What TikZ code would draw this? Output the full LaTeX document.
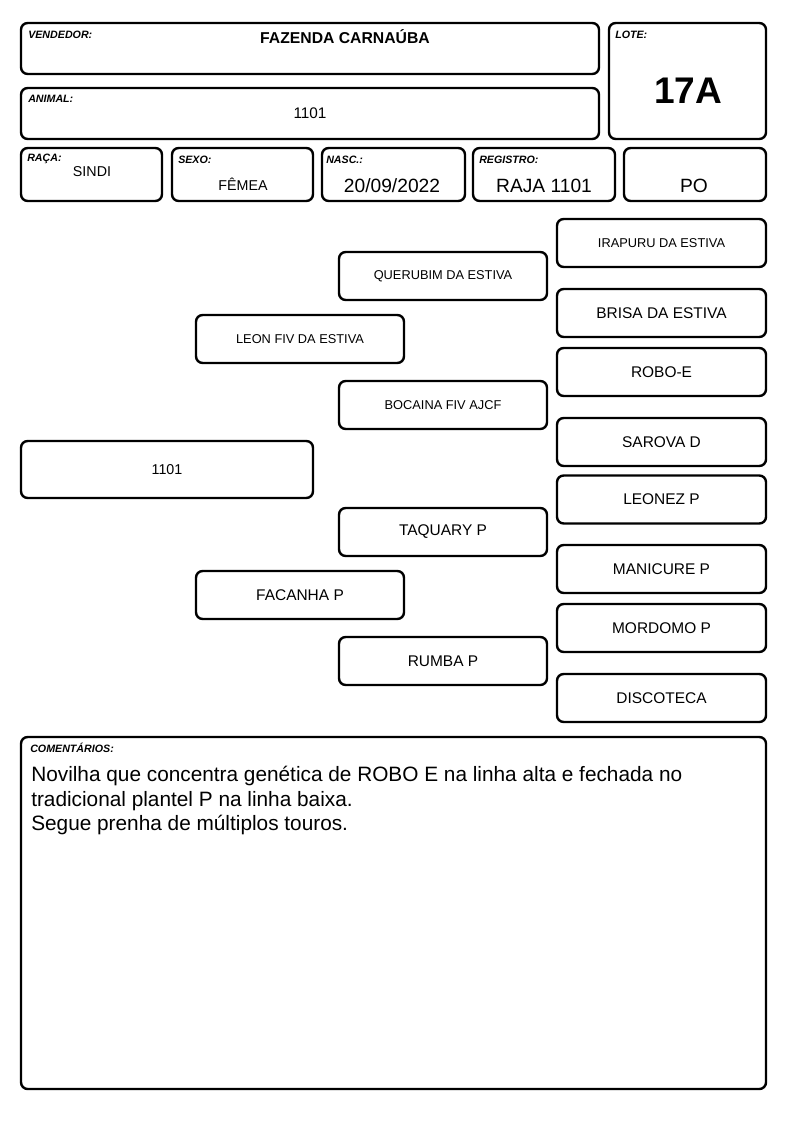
\documentclass[tikz,border=0pt]{standalone}
\usepackage{fontspec}
\setmainfont{Liberation Sans}
\usepackage{tikz}
\usetikzlibrary{positioning, calc}
\newcommand{\frotulo}{\fontsize{8pt}{9pt}\selectfont\bfseries\itshape}
\newcommand{\fpeq}{\fontsize{9.6pt}{11pt}\selectfont}
\newcommand{\fmed}{\fontsize{11.6pt}{13pt}\selectfont}
\newcommand{\fval}{\fontsize{10.7pt}{12pt}\selectfont}
\newcommand{\fgde}{\fontsize{14.4pt}{16pt}\selectfont}
\newcommand{\fobs}{\fontsize{15.6pt}{18.4pt}\selectfont}
\tikzset{
  caixa/.style={rectangle, draw=black, fill=white, rounded corners=5pt,
    line width=1.8pt, inner sep=0pt, align=center},
  rotulo/.style={anchor=west, inner sep=0pt, font=\frotulo},
  valor/.style={inner sep=0pt, font=\fval},
  avo/.style={caixa, minimum width=156pt, minimum height=36pt, font=\fmed},
  bisavo/.style={caixa, minimum width=156.75pt, minimum height=36pt, font=\fmed},
  campo/.style={caixa, minimum width=105.75pt, minimum height=39.75pt}
}

\begin{document}
\begin{tikzpicture}[x=0.75pt, y=-0.75pt]
  \useasboundingbox (0,0) rectangle (794,1123);

  % Header
  \node[caixa, minimum width=433.5pt, minimum height=38.25pt] (vend) at (310,48.5) {};
  \node[caixa, minimum width=433.5pt, minimum height=38.25pt] (anim) at (310,113.5) {};
  \node[caixa, minimum width=117.75pt, minimum height=87pt] (lote) at (687.5,81) {};
  \node[rotulo] (lvend) at (28,35) {VENDEDOR:};
  \node[valor, font=\fontsize{11.8pt}{13pt}\selectfont\bfseries] (tvend) at (345,37) {FAZENDA CARNAÚBA};
  \node[rotulo] (lanim) at (28,99) {ANIMAL:};
  \node[valor, font=\fontsize{11.5pt}{13pt}\selectfont] (tanim) at (310,113) {1101};
  \node[rotulo] (llote) at (615,35) {LOTE:};
  \node[valor, font=\fontsize{27.8pt}{30pt}\selectfont\bfseries] (tlote) at (688,91) {17A};

  % Data row
  \node[campo] (raca) at (91.5,174.5) {};
  \node[campo] (sexo) at (242.5,174.5) {};
  \node[campo, minimum width=107.25pt] (nasc) at (393.5,174.5) {};
  \node[campo, minimum width=106.5pt] (reg) at (544,174.5) {};
  \node[campo, minimum width=106.5pt] (po) at (695,174.5) {};
  \node[rotulo] (lraca) at (27,159) {RAÇA:};
  \node[valor] (traca) at (92,172) {SINDI};
  \node[rotulo] (lsexo) at (178,160) {SEXO:};
  \node[valor] (tsexo) at (243,184) {FÊMEA};
  \node[rotulo] (lnasc) at (326,160) {NASC.:};
  \node[valor, font=\fgde] (tnasc) at (392,186) {20/09/2022};
  \node[rotulo] (lreg) at (479,160) {REGISTRO:};
  \node[valor, font=\fgde] (treg) at (544,186) {RAJA 1101};
  \node[valor, font=\fgde] (tpo) at (694,186) {PO};

  % Pedigree
  \node[caixa, minimum width=219pt, minimum height=42.75pt, font=\fval] (animal) at (167,469.5) {1101};

  \node[avo, font=\fpeq] (pai) at (300,339) {LEON FIV DA ESTIVA};
  \node[avo] (mae) at (300,595) {FACANHA P};

  \node[avo, font=\fpeq] (avp) at (443,276) {QUERUBIM DA ESTIVA};
  \node[avo, font=\fpeq] (avmp) at (443,405) {BOCAINA FIV AJCF};
  \node[avo] (avm) at (443,532) {TAQUARY P};
  \node[avo] (avmm) at (443,661) {RUMBA P};

  \node[bisavo, font=\fpeq] (b1) at (661.5,243) {IRAPURU DA ESTIVA};
  \node[bisavo] (b2) at (661.5,313) {BRISA DA ESTIVA};
  \node[bisavo] (b3) at (661.5,372) {ROBO-E};
  \node[bisavo] (b4) at (661.5,442) {SAROVA D};
  \node[bisavo] (b5) at (661.5,499.5) {LEONEZ P};
  \node[bisavo] (b6) at (661.5,569) {MANICURE P};
  \node[bisavo] (b7) at (661.5,628) {MORDOMO P};
  \node[bisavo] (b8) at (661.5,698) {DISCOTECA};

  % Comments
  \node[caixa, minimum width=558.75pt, minimum height=264pt] (coment) at (393.5,913) {};
  \node[rotulo] (lcoment) at (30,748) {COMENTÁRIOS:};
  \node[anchor=north west, inner sep=0pt, align=left, font=\fobs] (tcoment) at (31,766)
    {Novilha que concentra genética de ROBO E na linha alta e fechada no\\
     tradicional plantel P na linha baixa.\\
     Segue prenha de múltiplos touros.};
\end{tikzpicture}
\end{document}
